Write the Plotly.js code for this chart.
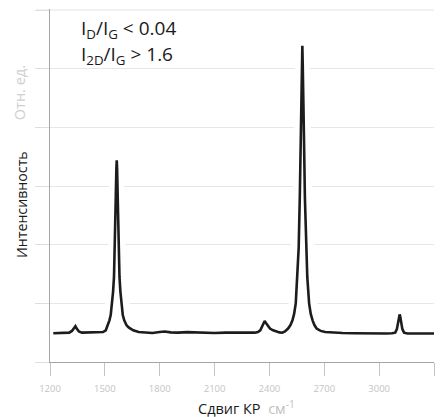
<!DOCTYPE html>
<html>
<head>
<meta charset="utf-8">
<script src="https://cdn.plot.ly/plotly-3.0.1.min.js"></script>
<style>
html,body{margin:0;padding:0;background:#fff;}
#chart{width:440px;height:417px;}
</style>
</head>
<body>
<div id="chart"></div>
<script>
// Raman shift (cm^-1) and intensity (arb. units)
var shift = [1218,1250,1280,1305,1320,1332,1339,1346,1358,1375,1400,1426,1445,1470,1490,1505,1513,1525,1532,1539,1545,1550,1554,1557,1560,1563,1565,1567,1570,1573,1576,1580,1585,1591,1598,1606,1618,1630,1655,1685,1720,1760,1800,1827,1860,1900,1950,1990,2040,2100,2160,2220,2280,2320,2337,2350,2362,2370,2374,2380,2392,2403,2420,2438,2455,2470,2485,2502,2515,2526,2535,2544,2553,2560,2566,2571,2575,2578,2580,2582,2585,2589,2594,2600,2607,2617,2626,2636,2646,2658,2680,2705,2740,2800,2860,2920,2980,3040,3070,3088,3097,3104,3109,3112,3115,3120,3127,3136,3155,3200,3250,3305];
var intensity = [0.49,0.495,0.49,0.50,0.53,0.58,0.61,0.57,0.52,0.50,0.50,0.51,0.50,0.50,0.51,0.54,0.60,0.71,0.80,1.00,1.20,1.45,1.85,2.30,2.85,3.30,3.44,3.30,2.85,2.30,1.85,1.45,1.20,1.00,0.80,0.71,0.63,0.59,0.54,0.51,0.50,0.495,0.51,0.52,0.505,0.50,0.51,0.505,0.50,0.495,0.50,0.495,0.50,0.50,0.51,0.54,0.61,0.68,0.70,0.67,0.61,0.57,0.54,0.52,0.505,0.50,0.52,0.57,0.63,0.71,0.82,1.00,1.45,1.95,2.80,3.80,4.70,5.10,5.39,5.10,4.70,3.80,2.80,1.95,1.45,1.00,0.82,0.71,0.63,0.57,0.53,0.51,0.50,0.495,0.49,0.485,0.49,0.485,0.49,0.50,0.56,0.68,0.78,0.81,0.78,0.68,0.56,0.50,0.485,0.485,0.48,0.485];
var xTicks = [1200,1500,1800,2100,2400,2700,3000,3300];
var xTickLabels = ['1200','1500','1800','2100','2400','2700','3000','3300'];
var yTicks = [0,1,2,3,4,5,6];
var yTop = 6;

var FONT = 'Open Sans, sans-serif';

var halo = {
  x: shift, y: intensity, type: 'scatter', mode: 'lines',
  line: {color: '#ffffff', width: 14}, hoverinfo: 'skip', showlegend: false
};
var spectrum = {
  x: shift, y: intensity, type: 'scatter', mode: 'lines',
  line: {color: '#1c1c1c', width: 2.6}, showlegend: false
};

var layout = {
  width: 440, height: 417,
  margin: {l: 50, r: 6, t: 9, b: 55},
  paper_bgcolor: '#ffffff', plot_bgcolor: '#ffffff',
  font: {family: FONT, color: '#1a1a1a'},
  showlegend: false,
  xaxis: {
    range: [1200, 3300], tickvals: xTicks, ticktext: xTickLabels,
    showgrid: false, zeroline: false,
    showline: true, linecolor: '#a6a6a6', linewidth: 1.3,
    ticks: 'outside', ticklen: 13, tickcolor: '#c4c4c4', tickwidth: 1,
    ticklabelstandoff: 4,
    tickfont: {family: FONT, size: 9.5, color: '#c4c4c4'}
  },
  yaxis: {
    range: [0, 6.017], tickvals: yTicks, showticklabels: false,
    showgrid: true, gridcolor: '#e6e6e6', gridwidth: 1, zeroline: false,
    showline: true, linecolor: '#a6a6a6', linewidth: 1.3,
    ticks: 'outside', ticklen: 14, tickcolor: '#dedede', tickwidth: 1
  },
  shapes: [
    {type: 'line', xref: 'paper', yref: 'y', x0: -0.0365, x1: 1, y0: yTop, y1: yTop,
     line: {color: '#e3e3e3', width: 1}, layer: 'below'}
  ],
  annotations: [
    {xref: 'paper', yref: 'paper', x: 0.075, y: 0.99, xanchor: 'left', yanchor: 'top',
     align: 'left', showarrow: false,
     text: 'I<sub>D</sub>/I<sub>G</sub> &lt; 0.04',
     font: {family: FONT, size: 19, color: '#1a1a1a'}},
    {xref: 'paper', yref: 'paper', x: 0.075, y: 0.9136, xanchor: 'left', yanchor: 'top',
     align: 'left', showarrow: false,
     text: 'I<sub>2D</sub>/I<sub>G</sub> &gt; 1.6',
     font: {family: FONT, size: 19, color: '#1a1a1a'}},
    {xref: 'paper', yref: 'paper', x: -0.076, y: 0.447, xanchor: 'center', yanchor: 'middle',
     textangle: -90, showarrow: false, text: 'Интенсивность',
     font: {family: FONT, size: 14.2, color: '#1a1a1a'}},
    {xref: 'paper', yref: 'paper', x: -0.081, y: 0.764, xanchor: 'center', yanchor: 'middle',
     textangle: -90, showarrow: false, text: 'Отн. ед.',
     font: {family: FONT, size: 14.5, color: '#cfcfcf'}},
    {xref: 'paper', yref: 'paper', x: 0.512, y: -0.128, xanchor: 'center', yanchor: 'middle',
     showarrow: false,
     text: 'Сдвиг КР\u00a0\u00a0<span style="color:#bfbfbf">см<sup>-1</sup></span>',
     font: {family: FONT, size: 14.5, color: '#1a1a1a'}}
  ]
};

Plotly.newPlot('chart', [halo, spectrum], layout, {displayModeBar: false, staticPlot: true});
</script>
</body>
</html>
